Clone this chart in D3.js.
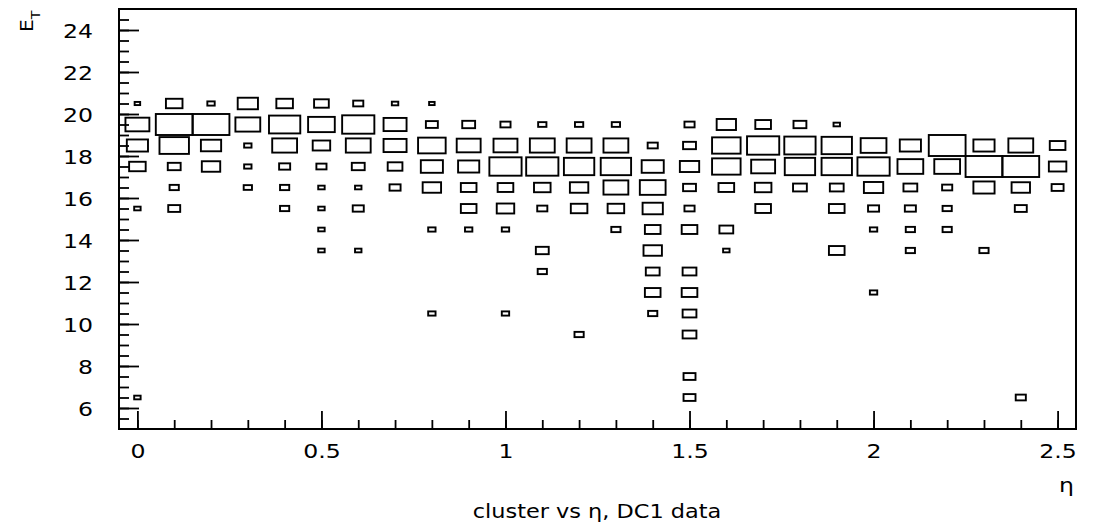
<!DOCTYPE html>
<html>
<head>
<meta charset="utf-8">
<script src="https://cdn.jsdelivr.net/npm/d3@7"></script>
<style>
  body { margin: 0; background: #fff; }
  text { font-family: "DejaVu Sans", sans-serif; fill: #000; }
</style>
</head>
<body>
<svg id="chart" width="1093" height="523"></svg>
<script>
// eta bin centres (x) and E_T bin centres (y)
const etaBins = [0, 0.1, 0.2, 0.3, 0.4, 0.5, 0.6, 0.7, 0.8, 0.9, 1.0, 1.1, 1.2,
                 1.3, 1.4, 1.5, 1.6, 1.7, 1.8, 1.9, 2.0, 2.1, 2.2, 2.3, 2.4, 2.5];
const etRows = [20.5, 19.5, 18.5, 17.5, 16.5, 15.5, 14.5, 13.5, 12.5, 11.5, 10.5, 9.5, 7.5, 6.5];

// bin contents, one array per E_T row, one value per eta bin
const et20_5 = [3, 9, 4, 11, 9, 8, 5.5, 3.5, 3, 0, 0, 0, 0, 0, 0, 0, 0, 0, 0, 0, 0, 0, 0, 0, 0, 0];
const et19_5 = [13, 20, 20, 13.5, 17, 14.5, 17.5, 12.5, 6.5, 7, 5.5, 4.5, 4.5, 4.5, 0, 5.5, 10.5, 8.5, 7, 3.5, 0, 0, 0, 0, 0, 0];
const et18_5 = [11.5, 16, 11, 4, 13.5, 9.5, 13.5, 12.5, 15, 13, 13, 13.5, 13.5, 13.5, 5.5, 7, 15.5, 17.5, 17, 16.5, 14, 11.5, 20, 11.5, 13.5, 8.5];
const et17_5 = [9, 7, 10, 4, 6, 5.5, 7, 8, 12, 11.5, 17.5, 17.5, 16.5, 16.5, 12, 10.5, 15.5, 13, 16.5, 16.5, 17.5, 14, 14, 20, 20, 9.5];
const et16_5 = [0, 5, 0, 4.5, 5, 3.5, 3.5, 6, 10, 8.5, 8.5, 9, 10, 13.5, 14, 7, 8.5, 9, 7.5, 7.5, 10.5, 7.5, 5.5, 11.5, 10, 6.5];
const et15_5 = [3.5, 6.5, 0, 0, 5, 3.5, 6, 0, 0, 8.5, 9.5, 5.5, 9, 9, 11, 5.5, 0, 8.5, 0, 8.5, 6, 6, 5, 0, 6.5, 0];
const et14_5 = [0, 0, 0, 0, 0, 3.5, 0, 0, 4, 4, 4, 0, 0, 5, 8.5, 8.5, 7.5, 0, 0, 0, 4, 5, 5, 0, 0, 0];
const et13_5 = [0, 0, 0, 0, 0, 3.5, 3.5, 0, 0, 0, 0, 7, 0, 0, 10, 0, 3.5, 0, 0, 8.5, 0, 5, 0, 5, 0, 0];
const et12_5 = [0, 0, 0, 0, 0, 0, 0, 0, 0, 0, 0, 5, 0, 0, 7.5, 7.5, 0, 0, 0, 0, 0, 0, 0, 0, 0, 0];
const et11_5 = [0, 0, 0, 0, 0, 0, 0, 0, 0, 0, 0, 0, 0, 0, 8.5, 8.5, 0, 0, 0, 0, 4, 0, 0, 0, 0, 0];
const et10_5 = [0, 0, 0, 0, 0, 0, 0, 0, 4, 0, 4, 0, 0, 0, 5, 7.5, 0, 0, 0, 0, 0, 0, 0, 0, 0, 0];
const et9_5  = [0, 0, 0, 0, 0, 0, 0, 0, 0, 0, 0, 0, 5, 0, 0, 7.5, 0, 0, 0, 0, 0, 0, 0, 0, 0, 0];
const et7_5  = [0, 0, 0, 0, 0, 0, 0, 0, 0, 0, 0, 0, 0, 0, 0, 6.5, 0, 0, 0, 0, 0, 0, 0, 0, 0, 0];
const et6_5  = [3.5, 0, 0, 0, 0, 0, 0, 0, 0, 0, 0, 0, 0, 0, 0, 6.5, 0, 0, 0, 0, 0, 0, 0, 0, 5.5, 0];
const rowValues = [et20_5, et19_5, et18_5, et17_5, et16_5, et15_5, et14_5, et13_5,
                   et12_5, et11_5, et10_5, et9_5, et7_5, et6_5];

const xTickLabels = [0, 0.5, 1, 1.5, 2, 2.5];
const yTickLabels = [6, 8, 10, 12, 14, 16, 18, 20, 22, 24];

const LEFT = 119, RIGHT = 1076, TOP = 9, BOTTOM = 429;
const SX = 1.18; // fonts in the original are wider than DejaVu

const svg = d3.select("#chart");

const x = d3.scaleLinear().domain([-0.05, 2.55]).range([LEFT, RIGHT]);
const y = d3.scaleLinear().domain([5, 25]).range([BOTTOM, TOP]);

// cells
const cells = [];
etRows.forEach((et, i) => {
  rowValues[i].forEach((v, j) => {
    if (v > 0) cells.push({ eta: etaBins[j], et, v });
  });
});
const zmax = d3.max(cells, d => d.v);
const bw = x(0.1) - x(0);
const bh = y(0) - y(1);

svg.append("g")
  .attr("fill", "none")
  .attr("stroke", "#000")
  .attr("stroke-width", 1.9)
  .selectAll("rect")
  .data(cells)
  .join("rect")
  .attr("x", d => x(d.eta) - bw * d.v / zmax / 2)
  .attr("y", d => y(d.et) - bh * d.v / zmax / 2)
  .attr("width", d => bw * d.v / zmax)
  .attr("height", d => bh * d.v / zmax);

// x axis: ticks point up into the frame
const xMinor = d3.range(0, 26).map(i => i / 10);
svg.append("g")
  .attr("transform", `translate(0,${BOTTOM})`)
  .call(d3.axisBottom(x).tickValues(xMinor).tickSize(-9).tickFormat(""))
  .call(g => g.select(".domain").remove());
const xAxis = svg.append("g")
  .attr("transform", `translate(0,${BOTTOM})`)
  .call(d3.axisBottom(x).tickValues(xTickLabels).tickSize(-18).tickFormat(d3.format("")))
  .call(g => g.select(".domain").remove());
xAxis.selectAll("text")
  .attr("y", 29).attr("dy", 0)
  .attr("font-size", 20)
  .attr("transform", `scale(${SX},1)`);

// y axis
const yMinor = d3.range(11, 50).map(i => i / 2);
svg.append("g")
  .attr("transform", `translate(${LEFT},0)`)
  .call(d3.axisLeft(y).tickValues(yMinor).tickSize(-10).tickFormat(""))
  .call(g => g.select(".domain").remove());
const yAxis = svg.append("g")
  .attr("transform", `translate(${LEFT},0)`)
  .call(d3.axisLeft(y).tickValues(yTickLabels).tickSize(-20))
  .call(g => g.select(".domain").remove());
yAxis.selectAll("text")
  .attr("x", -26 / SX).attr("dy", "0.37em")
  .attr("font-size", 20)
  .attr("transform", `scale(${SX},1)`);

svg.selectAll(".tick line").attr("stroke", "#000").attr("stroke-width", 1.8);
svg.selectAll(".tick text").attr("font-family", "DejaVu Sans").attr("fill", "#000");

// frame
svg.append("rect")
  .attr("x", LEFT).attr("y", TOP)
  .attr("width", RIGHT - LEFT).attr("height", BOTTOM - TOP)
  .attr("fill", "none").attr("stroke", "#000").attr("stroke-width", 2);

// axis titles
const yt = svg.append("text")
  .attr("transform", `translate(33,32) rotate(-90) scale(${SX},1)`)
  .attr("font-size", 17);
yt.append("tspan").text("E");
yt.append("tspan").attr("font-size", 12).attr("dy", 7).text("T");

svg.append("text")
  .attr("transform", `translate(1074,492) scale(${SX},1)`)
  .attr("text-anchor", "end")
  .attr("font-size", 20)
  .text("η");

svg.append("text")
  .attr("transform", `translate(597,518) scale(${SX},1)`)
  .attr("text-anchor", "middle")
  .attr("font-size", 19)
  .text("cluster vs η, DC1 data");
</script>
</body>
</html>
